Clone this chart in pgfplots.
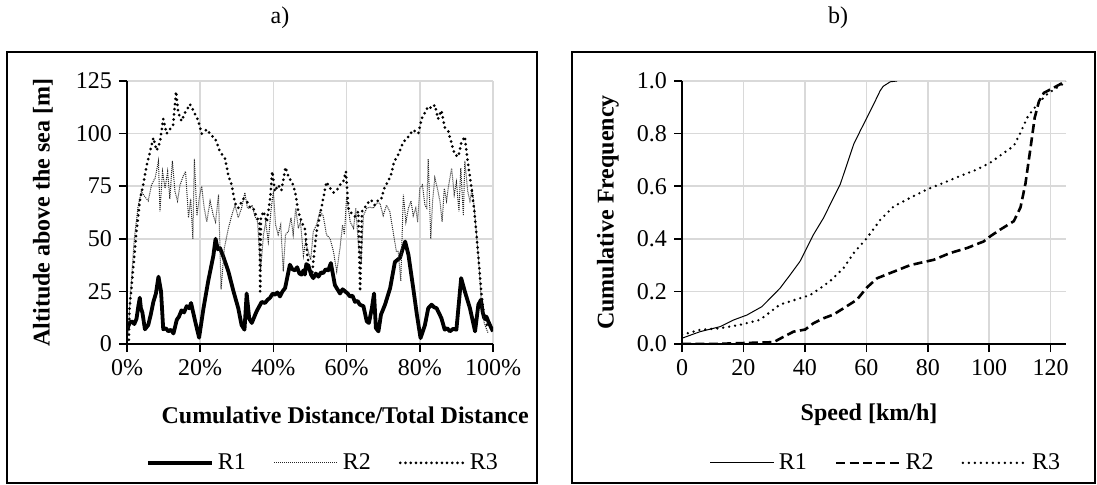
\documentclass[border=0pt]{standalone}
\usepackage{fontspec}
\setmainfont{Liberation Serif}
\usepackage{pgfplots}
\pgfplotsset{compat=1.18}

\newcommand{\fs}{\fontsize{12}{14}\selectfont}

\pgfplotsset{
  panel/.style={
    scale only axis, anchor=south west,
    axis x line=bottom, axis y line=left,
    axis line style={-, black, line width=0.8pt},
    grid=major, major grid style={gray!30, line width=0.8pt},
    tick align=outside, major tick length=4pt,
    tick style={black, line width=0.8pt},
    ticklabel style={font=\fs},
    label style={font=\bfseries\fs},
    /pgf/number format/assume math mode=true,
    legend style={draw=none, fill=none, legend columns=3, font=\fs,
      /tikz/every even column/.append style={column sep=12pt}, anchor=center},
    legend image code/.code={\draw[#1] (0pt,0pt) -- (32pt,0pt);},
  }
}

\begin{document}
\begin{tikzpicture}
\useasboundingbox (0,0) rectangle (548.5pt,242pt);

% a) altitude profile
\begin{axis}[panel,
  at={(63.5pt,70pt)}, width=183pt, height=131.5pt,
  xmin=0, xmax=100, ymin=0, ymax=125,
  xtick={0,20,...,100}, xticklabels={0\%,20\%,40\%,60\%,80\%,100\%},
  ytick={0,25,...,125},
  xlabel={Cumulative Distance/Total Distance},
  xlabel style={at={(axis description cs:0.596,-0.27)}, anchor=center},
  ylabel={Altitude above the sea [m]},
  ylabel style={at={(axis description cs:-0.23,0.5)}, anchor=center},
  legend style={at={(axis description cs:0.538,-0.452)}},
]
\addplot[black, line width=1.9pt, line join=round] coordinates {
(0,7) (0.2,7.6) (0.7,10) (1.3,10.8) (2.0,9.5) (2.6,12) (3.1,18) (3.5,22) (3.8,17)
(4.2,15) (4.9,7) (5.8,9) (6.5,14) (7.2,20) (7.9,24) (8.6,32) (9.3,25) (9.9,7)
(10.6,7.5) (11.3,6) (12.0,6.8) (12.7,5) (13.6,11.5) (14.2,13) (14.9,16) (15.6,15)
(16.3,18) (17.0,17) (17.5,19.5) (18.6,11) (19.7,3) (20.9,17) (22.2,30) (23.6,42)
(24.2,50) (24.8,45) (25.4,45.6) (26.3,41.6) (27.7,34.5) (29.1,25) (30.4,17) (31.3,9)
(32.1,6.8) (32.7,24) (33.4,12) (34.1,10) (35.4,15.5) (36.8,20) (37.7,19.5)
(38.4,21) (39.1,22) (39.8,24) (40.4,23.4) (41.1,24.5) (41.8,22.6) (42.5,25)
(43.2,26.6) (44.5,37.7) (45.2,35.5) (45.9,35) (46.5,36.5) (47.1,33.5) (47.7,33)
(48.2,35) (48.6,33) (49.0,38) (49.6,37) (50.3,33) (50.9,31.3) (51.6,33.5)
(52.3,32) (53.0,34) (53.6,33.7) (54.3,35.5) (55.0,35) (55.7,38.5) (56.8,28)
(57.5,26) (58.2,24) (58.9,26) (59.6,25) (60.3,24) (60.9,22.6) (61.6,23) (62.3,20)
(63.0,20.5) (63.6,18.7) (64.6,18) (65.5,10.8) (66.1,10) (66.9,17) (67.5,24)
(68.0,7.6) (68.7,6) (69.4,14) (70.5,18.7) (71.9,26.6) (73.2,39) (73.9,40)
(74.6,41) (75.3,45) (76.0,48.7) (76.9,42.4) (78.2,26.6) (79.2,14) (80.2,2.8)
(81.4,9) (82.3,17) (83.2,18.7) (83.9,17.5) (84.6,17) (85.9,12.3) (86.8,6.8)
(87.5,7.5) (88.2,6) (89.1,7.2) (90.0,6.8) (91.3,31.3) (92.3,25) (93.7,17) (95.1,6)
(96.0,18.7) (96.7,21) (97.2,15) (97.6,12.3) (98.2,13) (98.7,10.8) (99.3,8.5) (100,6)
};
\addlegendentry{R1}
\addplot[black!85, line width=0.5pt, dash pattern=on 0.5pt off 0.5pt] coordinates {
(0.3,5) (1.0,25) (2.0,50) (3.0,65) (3.9,72.5) (4.9,70) (5.8,68) (6.7,75.6) (7.7,79)
(8.6,87) (9.0,63) (9.7,82) (10.4,74) (11.1,82) (11.7,69) (12.4,87) (13.1,72.5)
(13.8,68) (14.5,75.6) (15.4,80) (16.0,82) (16.8,60) (17.4,69) (18.0,50) (18.4,88)
(19.1,61) (19.7,69) (20.4,75) (21.1,64.6) (21.8,58) (22.7,68) (23.6,61) (24.2,58)
(25.0,71) (25.4,45.6) (25.7,26) (26.6,45.6) (27.7,55) (28.6,61) (29.5,66) (30.4,60)
(31.3,64.6) (32.2,72) (32.9,64.6) (33.6,64.6) (34.2,66) (34.9,61) (35.7,58)
(36.0,48.7) (36.5,35) (37.3,52) (37.9,58) (38.6,48.7) (39.4,64.6) (40.0,72.5)
(40.6,56.6) (41.3,52) (42.0,56.6) (42.7,34.5) (43.3,52) (44.1,53.5) (44.8,60)
(45.4,52) (46.1,64.6) (46.8,55) (47.4,58) (48.2,42) (48.8,48.7) (49.5,44) (50.2,40)
(50.9,53.5) (51.8,56.6) (52.7,63) (53.6,61) (54.5,52) (55.5,50) (56.4,44) (57.3,34.5)
(58.2,45.6) (58.9,56.6) (59.4,52) (60.0,70) (61.0,58) (61.9,55) (62.5,64.6)
(63.3,45.6) (64.0,40) (64.6,61) (65.5,64.6) (66.4,65) (67.3,64.6) (68.2,67)
(69.1,67) (70.0,61) (70.9,66) (71.8,63) (72.7,53.5) (73.6,44) (74.1,44) (74.8,30)
(75.5,71) (76.2,58) (76.9,64.6) (77.6,68) (78.2,61) (78.9,64.6) (79.4,58) (80.0,74)
(80.7,75.6) (81.4,66) (81.9,64.6) (82.3,88) (83.0,50) (83.5,68) (84.1,79) (84.8,74)
(85.5,68) (86.1,58) (86.7,74) (87.3,68) (87.9,75.6) (88.7,83.6) (89.4,71) (90.0,77)
(90.7,63) (91.2,83.6) (91.9,61) (92.3,87) (93.1,72.5) (93.7,68) (94.3,74)
(94.9,64.6) (95.5,52) (96.1,39) (96.8,20) (97.6,10) (98.7,5)
};
\addlegendentry{R2}
\addplot[black, line width=1.5pt, line cap=round, dash pattern=on 0pt off 2.6pt] coordinates {
(0.5,2) (0.7,17) (1.7,36) (2.6,53.5) (3.5,68) (4.4,75.6) (5.4,85) (6.3,91.5)
(7.2,98) (8.1,92) (9.0,96) (9.9,107) (10.8,100) (11.7,102) (12.6,104) (13.4,120)
(14.0,110) (14.9,106) (15.9,110) (17.2,114) (18.1,111) (19.5,106) (20.4,100)
(21.8,102) (23.1,99) (24.0,98) (25.4,91.5) (26.8,88) (27.7,80) (28.6,75.6)
(29.5,67) (30.4,64.6) (31.8,69) (32.7,68) (33.6,65) (34.5,64.6) (35.4,60.6)
(36.2,58) (36.4,25) (36.6,60) (37.3,63) (38.2,58) (39.1,69) (39.7,82) (40.4,72.5)
(41.3,75.6) (42.2,73) (43.3,84) (44.2,79) (45.1,77) (45.9,72.5) (46.8,63) (47.7,58)
(48.6,55) (49.3,42) (50.0,34.5) (50.5,31) (50.9,39) (51.8,53.5) (52.7,61) (53.6,69)
(54.5,77) (55.5,74) (56.4,72) (57.3,73) (58.2,75.6) (59.1,77) (59.8,82) (60.5,64.6)
(61.4,62) (62.3,60.6) (63.2,63) (63.7,25) (64.2,63) (64.9,64.6) (65.8,67)
(66.7,68.5) (67.6,66) (68.5,68) (69.4,68.5) (70.3,74) (71.2,77) (72.1,80)
(73.0,86.7) (74.1,90) (75.5,96) (76.9,98.6) (78.2,101.7) (79.6,100) (80.5,107)
(81.4,110) (82.3,113) (83.2,112) (84.1,113.6) (85.0,107) (85.9,111) (86.8,103)
(87.8,101) (88.9,94) (89.6,90) (90.5,89) (91.4,96) (92.3,98.6) (93.0,88) (93.9,77)
(94.8,64.6) (95.5,52) (96.1,39) (96.7,26.6) (97.3,17) (97.8,12) (98.5,8)
};
\addlegendentry{R3}
\end{axis}

% b) speed distribution
\begin{axis}[panel,
  at={(341pt,70pt)}, width=192pt, height=131.5pt,
  xmin=0, xmax=125, ymin=0, ymax=1,
  xtick={0,20,...,120},
  ytick={0,0.2,...,1.0},
  yticklabel style={/pgf/number format/.cd, fixed, fixed zerofill, precision=1},
  xlabel={Speed [km/h]},
  xlabel style={at={(axis description cs:0.487,-0.27)}, anchor=center},
  ylabel={Cumulative Frequency},
  ylabel style={at={(axis description cs:-0.193,0.5)}, anchor=center},
  legend style={at={(axis description cs:0.534,-0.452)}},
]
\addplot[black, line width=0.5pt] coordinates {
(0,0.022) (5.9,0.047) (12.4,0.066) (16.7,0.091) (21.1,0.11) (26,0.142) (28.7,0.174)
(31.9,0.212) (35.2,0.263) (38.4,0.314) (40.6,0.365) (42.8,0.416) (46.1,0.48)
(49.3,0.556) (51.5,0.607) (53.7,0.683) (55.9,0.76) (58,0.81) (60.2,0.861)
(62.4,0.912) (64.5,0.963) (65.5,0.98) (67.8,0.997) (70,1.0)
};
\addlegendentry{R1}
\addplot[black, line width=1.3pt, dash pattern=on 4.5pt off 2.2pt] coordinates {
(0,0) (10,0) (21,0.004) (29.8,0.007) (33,0.027) (36.3,0.047) (40.1,0.055)
(42.8,0.079) (46.1,0.098) (49.3,0.112) (52.6,0.136) (56.9,0.168) (60.2,0.215)
(63.5,0.25) (68.9,0.275) (74.3,0.3) (81.9,0.32) (87.3,0.346) (92.8,0.365)
(98.2,0.39) (100.4,0.41) (103.6,0.435) (108,0.467) (110.2,0.52) (111.8,0.61)
(113.5,0.75) (114.8,0.86) (116.2,0.923) (117.8,0.955) (121.1,0.975) (125,1.0)
};
\addlegendentry{R2}
\addplot[black, line width=1.3pt, line cap=round, dash pattern=on 0pt off 3pt] coordinates {
(0,0.035) (5.9,0.054) (12.4,0.06) (18.9,0.073) (25.4,0.092) (31.9,0.15) (38.4,0.174)
(41.7,0.186) (45,0.212) (48.3,0.24) (52.6,0.289) (55.9,0.346) (60.2,0.403)
(64.6,0.473) (68.9,0.523) (74.3,0.556) (79.8,0.588) (85.2,0.613) (90.6,0.639)
(96.1,0.664) (100.4,0.69) (104.8,0.727) (108,0.753) (110.2,0.804) (112.4,0.861)
(114,0.887) (116.7,0.925) (118.9,0.95) (122.2,0.976) (125,0.995)
};
\addlegendentry{R3}
\end{axis}

% frames and panel titles
\draw[line width=0.9pt] (3.5pt,0.5pt) rectangle (268.5pt,216pt);
\draw[line width=0.9pt] (286pt,0.5pt) rectangle (547.5pt,216pt);
\node[font=\fs] at (140pt,233pt) {a)};
\node[font=\fs] at (419pt,233pt) {b)};
\end{tikzpicture}
\end{document}
